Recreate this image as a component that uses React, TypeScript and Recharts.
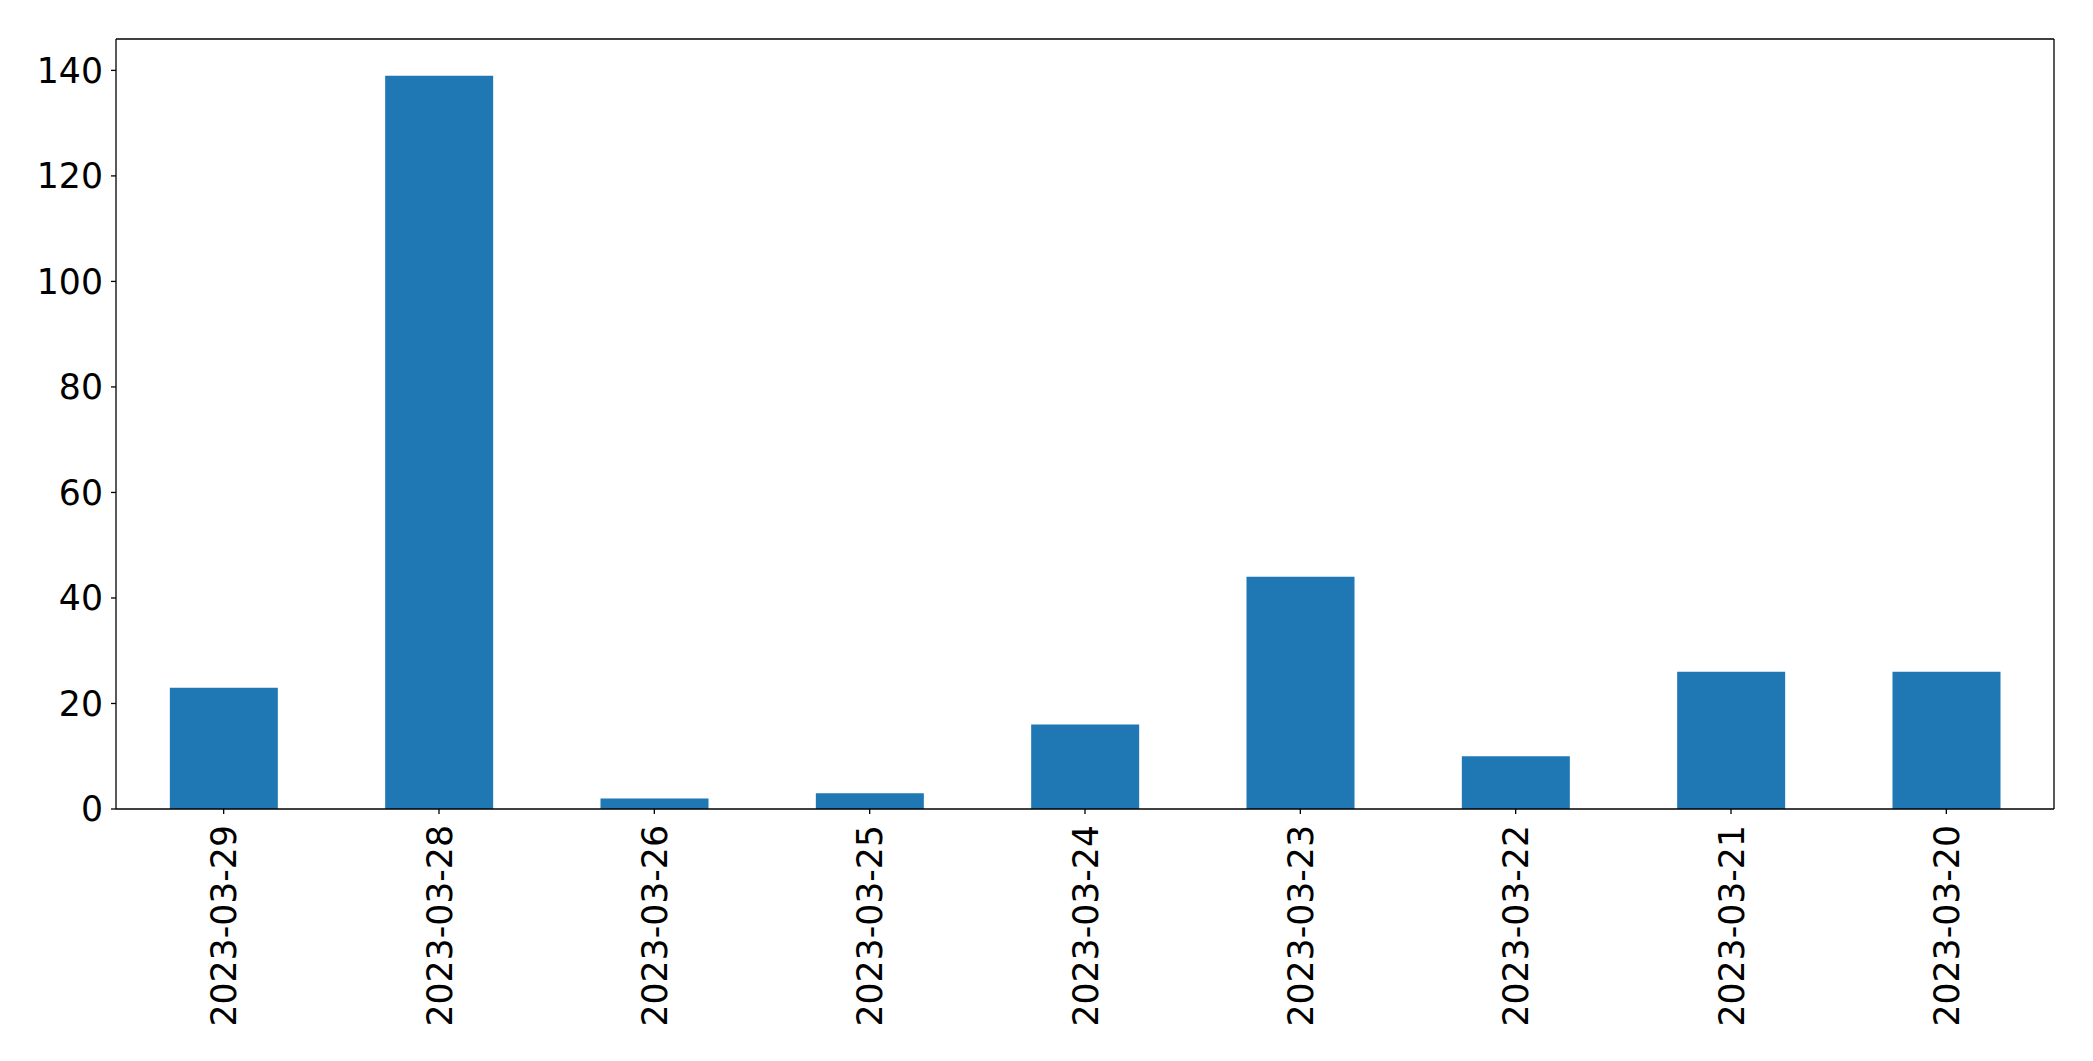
import React from 'react';
import { BarChart, Bar, XAxis, YAxis, CartesianGrid } from 'recharts';

const dates = ['2023-03-29', '2023-03-28', '2023-03-26', '2023-03-25', '2023-03-24', '2023-03-23', '2023-03-22', '2023-03-21', '2023-03-20'];
const counts = [23, 139, 2, 3, 16, 44, 10, 26, 26];
const yTicks = [0, 20, 40, 60, 80, 100, 120, 140];

const data = dates.map((d, i) => ({ date: d, count: counts[i] }));

const FONT = 'DejaVu Sans';
const FS = 34.7;

const XTick = (props: any) => {
  const { x, y, payload } = props;
  return (
    <text
      transform={`translate(${x},${y}) rotate(-90)`}
      textAnchor="end"
      dy="0.36em"
      fontFamily={FONT}
      fontSize={FS}
      fill="#000"
    >
      {payload.value}
    </text>
  );
};

const YTick = (props: any) => {
  const { x, y, payload } = props;
  return (
    <text x={x} y={y} textAnchor="end" dy="0.36em" fontFamily={FONT} fontSize={FS} fill="#000">
      {payload.value}
    </text>
  );
};

export default function App() {
  return (
    <div style={{ position: 'absolute', left: 0, top: 0, background: '#fff' }}>
      <BarChart
        width={2093}
        height={1061}
        data={data}
        margin={{ top: 39, right: 39, bottom: 0, left: 0 }}
        barCategoryGap="25%"
      >
        <CartesianGrid
          stroke="#000"
          strokeWidth={1.3}
          horizontalCoordinatesGenerator={(p: any) => [p.offset.top]}
          verticalCoordinatesGenerator={(p: any) => [p.offset.left + p.offset.width]}
        />
        <XAxis
          dataKey="date"
          height={252}
          interval={0}
          tick={<XTick />}
          tickSize={5}
          tickMargin={11}
          axisLine={{ stroke: '#000', strokeWidth: 1.3 }}
          tickLine={{ stroke: '#000', strokeWidth: 1.3 }}
        />
        <YAxis
          width={116}
          domain={[0, 145.95]}
          ticks={yTicks}
          allowDataOverflow
          tick={<YTick />}
          tickSize={5}
          tickMargin={8}
          axisLine={{ stroke: '#000', strokeWidth: 1.3 }}
          tickLine={{ stroke: '#000', strokeWidth: 1.3 }}
        />
        <Bar dataKey="count" fill="#1f77b4" isAnimationActive={false} />
      </BarChart>
    </div>
  );
}
